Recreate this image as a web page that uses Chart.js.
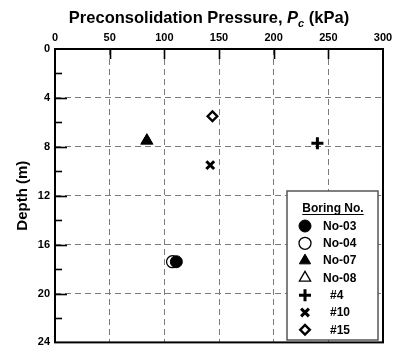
<!DOCTYPE html>
<html>
<head>
<meta charset="utf-8">
<script src="https://cdn.jsdelivr.net/npm/chart.js@4/dist/chart.umd.min.js"></script>
<style>
  html, body { margin: 0; padding: 0; background: #fff; }
  #wrap { width: 398px; height: 354px; }
</style>
</head>
<body>
<div id="wrap"><canvas id="c" width="398" height="354"></canvas></div>
<script>
// Boring identifiers and their preconsolidation pressure (kPa) / depth (m) readings
const borings      = ['No-03', 'No-04', 'No-07', 'No-08', '#4', '#10', '#15'];
const pressureKPa  = [[111], [107.5], [84], [84], [240], [142], [144]];
const depthM       = [[17.4], [17.4], [7.5], [7.5], [7.7], [9.5], [5.5]];
const pressureTicks = [0, 50, 100, 150, 200, 250, 300];
const depthTicks    = [0, 4, 8, 12, 16, 20, 24];

// Marker appearance for each boring
const markerStyles = [
  { pointStyle: 'circle',   radius: 6,   fill: '#000', stroke: '#000', width: 1 },
  { pointStyle: 'circle',   radius: 6,   fill: '#fff', stroke: '#000', width: 1.3 },
  { pointStyle: 'triangle', radius: 6.5, fill: '#000', stroke: '#000', width: 1 },
  { pointStyle: 'triangle', radius: 6.5, fill: '#fff', stroke: '#000', width: 1.3 },
  { pointStyle: 'cross',    radius: 6,   fill: '#000', stroke: '#000', width: 3 },
  { pointStyle: 'crossRot', radius: 5.5, fill: '#000', stroke: '#000', width: 3 },
  { pointStyle: 'rectRot',  radius: 4.8, fill: '#fff', stroke: '#000', width: 2.4 }
];

const BOLD = 'bold';
const FAMILY = "'Liberation Sans', Arial, sans-serif";

const datasets = borings.map((name, i) => ({
  label: name,
  data: pressureKPa[i].map((p, k) => ({ x: p, y: depthM[i][k] })),
  pointStyle: markerStyles[i].pointStyle,
  pointRadius: markerStyles[i].radius,
  pointBackgroundColor: markerStyles[i].fill,
  pointBorderColor: markerStyles[i].stroke,
  pointBorderWidth: markerStyles[i].width,
  // open triangle sits beneath the filled one
  order: name === 'No-08' ? 10 : i
}));

const isInner = (v, lo, hi) => v > lo && v < hi;

// Frame, inward tick marks, titles and the boxed legend
const decorations = {
  id: 'decorations',
  afterDraw(chart) {
    const { ctx, chartArea: a, scales } = chart;
    const xs = scales.x, ys = scales.y;
    ctx.save();
    ctx.setLineDash([]);
    ctx.strokeStyle = '#000';

    // inward ticks on the depth axis (major every 4 m, minor between)
    ctx.lineWidth = 1.6;
    for (let v = 2; v < 24; v += 2) {
      const py = Math.round(ys.getPixelForValue(v)) + 0.5;
      const len = v % 4 === 0 ? 12 : 7;
      ctx.beginPath(); ctx.moveTo(a.left, py); ctx.lineTo(a.left + len, py); ctx.stroke();
    }
    // inward ticks on the pressure axis along the top edge
    pressureTicks.forEach(v => {
      if (!isInner(v, 0, 300)) return;
      const px = Math.round(xs.getPixelForValue(v)) + 0.5;
      ctx.beginPath(); ctx.moveTo(px, a.top); ctx.lineTo(px, a.top + 10); ctx.stroke();
    });

    // plot frame
    ctx.lineWidth = 2;
    ctx.strokeRect(a.left, a.top, a.right - a.left, a.bottom - a.top);

    // chart title with italic subscripted Pc
    const big = 16.5, small = 11;
    const parts = [
      { t: 'Preconsolidation Pressure, ', f: `${BOLD} ${big}px ${FAMILY}`, dy: 0 },
      { t: 'P', f: `italic ${BOLD} ${big}px ${FAMILY}`, dy: 0 },
      { t: 'c', f: `italic ${BOLD} ${small}px ${FAMILY}`, dy: 4 },
      { t: ' (kPa)', f: `${BOLD} ${big}px ${FAMILY}`, dy: 0 }
    ];
    let total = 0;
    parts.forEach(p => { ctx.font = p.f; p.w = ctx.measureText(p.t).width; total += p.w; });
    let tx = 209 - total / 2;
    ctx.fillStyle = '#000';
    ctx.textBaseline = 'alphabetic';
    ctx.textAlign = 'left';
    parts.forEach(p => { ctx.font = p.f; ctx.fillText(p.t, tx, 23 + p.dy); tx += p.w; });

    // depth axis title
    ctx.save();
    ctx.translate(27, (a.top + a.bottom) / 2);
    ctx.rotate(-Math.PI / 2);
    ctx.font = `${BOLD} 15px ${FAMILY}`;
    ctx.textAlign = 'center';
    ctx.textBaseline = 'alphabetic';
    ctx.fillText('Depth (m)', 0, 0);
    ctx.restore();

    // legend box
    const box = { l: a.left + 232, t: a.top + 142, w: 91, h: 149 };
    ctx.fillStyle = '#fff';
    ctx.fillRect(box.l, box.t, box.w, box.h);
    ctx.strokeStyle = '#555';
    ctx.lineWidth = 1.5;
    ctx.strokeRect(box.l, box.t, box.w, box.h);

    ctx.fillStyle = '#000';
    ctx.font = `${BOLD} 12px ${FAMILY}`;
    ctx.textAlign = 'center';
    ctx.textBaseline = 'alphabetic';
    const titleX = box.l + 46, titleY = box.t + 21;
    ctx.fillText('Boring No.', titleX, titleY);
    const tw = ctx.measureText('Boring No.').width;
    ctx.strokeStyle = '#000';
    ctx.lineWidth = 1;
    ctx.beginPath(); ctx.moveTo(titleX - tw / 2, titleY + 2.5); ctx.lineTo(titleX + tw / 2, titleY + 2.5); ctx.stroke();

    borings.forEach((name, i) => {
      const cy = box.t + 35 + i * 17.3;
      const mx = box.l + 18;
      const s = markerStyles[i];
      ctx.fillStyle = s.fill;
      ctx.strokeStyle = s.stroke;
      ctx.lineWidth = s.width;
      Chart.helpers.drawPoint(ctx, {
        pointStyle: s.pointStyle, radius: s.radius, rotation: 0, borderWidth: s.width
      }, mx, cy);
      ctx.fillStyle = '#000';
      ctx.font = `${BOLD} 12px ${FAMILY}`;
      ctx.textAlign = 'left';
      ctx.textBaseline = 'middle';
      ctx.fillText(name, box.l + (name.startsWith('#') ? 43 : 36), cy + 0.5);
    });
    ctx.restore();
  }
};

new Chart(document.getElementById('c'), {
  type: 'scatter',
  data: { datasets },
  options: {
    responsive: false,
    animation: false,
    events: [],
    layout: { padding: { top: 0, right: 15, bottom: 7, left: 0 } },
    plugins: { legend: { display: false }, tooltip: { enabled: false }, title: { display: false } },
    scales: {
      x: {
        type: 'linear',
        position: 'top',
        min: 0, max: 300,
        afterBuildTicks: s => { s.ticks = pressureTicks.map(v => ({ value: v })); },
        afterFit: s => { s.height = 49; },
        ticks: { color: '#000', padding: 4, font: { family: FAMILY, size: 11, weight: 'bold' } },
        grid: {
          drawTicks: false,
          lineWidth: 1,
          color: c => isInner(c.tick.value, 0, 300) ? '#7a7a7a' : 'rgba(0,0,0,0)'
        },
        border: { display: false, dash: [6, 4] }
      },
      y: {
        type: 'linear',
        reverse: true,
        min: 0, max: 24,
        afterBuildTicks: s => { s.ticks = depthTicks.map(v => ({ value: v })); },
        afterFit: s => { s.width = 55; },
        ticks: { color: '#000', padding: 5, font: { family: FAMILY, size: 11, weight: 'bold' } },
        grid: {
          drawTicks: false,
          lineWidth: 1,
          color: c => isInner(c.tick.value, 0, 24) ? '#7a7a7a' : 'rgba(0,0,0,0)'
        },
        border: { display: false, dash: [6, 4] }
      }
    }
  },
  plugins: [decorations]
});
</script>
</body>
</html>
